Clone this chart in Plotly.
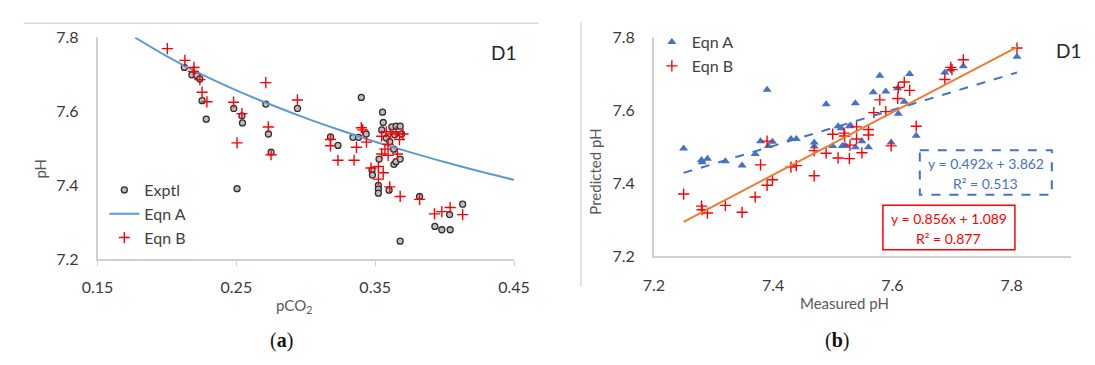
import plotly.graph_objects as go

# ---------------- data: panel (a) ----------------
exptl_pco2 = [0.2125, 0.218, 0.2215, 0.2237, 0.2253, 0.2283, 0.2481, 0.2505, 0.254, 0.2544,
              0.2712, 0.2731, 0.275, 0.294, 0.3178, 0.3232, 0.334, 0.338, 0.340, 0.3435,
              0.3477, 0.348, 0.3523, 0.3523, 0.3523, 0.3528, 0.3547, 0.3553, 0.3558, 0.358,
              0.3605, 0.362, 0.3633, 0.3635, 0.364, 0.365, 0.3651, 0.368, 0.368, 0.369,
              0.368, 0.360, 0.382, 0.393, 0.398, 0.4036, 0.404, 0.413]
exptl_ph = [7.719, 7.699, 7.697, 7.688, 7.629, 7.579, 7.608, 7.391, 7.588, 7.569,
            7.620, 7.539, 7.490, 7.608, 7.531, 7.508, 7.530, 7.530, 7.638, 7.539,
            7.441, 7.428, 7.400, 7.390, 7.379, 7.471, 7.550, 7.598, 7.570, 7.528,
            7.518, 7.558, 7.498, 7.457, 7.537, 7.464, 7.560, 7.560, 7.471, 7.539,
            7.249, 7.387, 7.370, 7.289, 7.280, 7.321, 7.280, 7.349]

eqnB_pco2 = [0.2003, 0.2129, 0.2195, 0.219, 0.2237, 0.2253, 0.2288, 0.248, 0.2505, 0.254,
             0.2712, 0.273, 0.275, 0.294, 0.3178, 0.3178, 0.3232, 0.3348, 0.3365, 0.340,
             0.341, 0.3437, 0.347, 0.3523, 0.3523, 0.3547, 0.3547, 0.3558, 0.357, 0.358,
             0.3593, 0.3593, 0.3605, 0.361, 0.365, 0.366, 0.3675, 0.368, 0.370, 0.382,
             0.3927, 0.398, 0.404, 0.413]
eqnB_ph = [7.770, 7.738, 7.719, 7.708, 7.686, 7.652, 7.626, 7.625, 7.515, 7.594,
           7.678, 7.558, 7.483, 7.631, 7.524, 7.507, 7.468, 7.468, 7.503, 7.556,
           7.550, 7.517, 7.447, 7.451, 7.417, 7.533, 7.485, 7.434, 7.498, 7.545,
           7.511, 7.481, 7.396, 7.539, 7.545, 7.485, 7.524, 7.370, 7.539, 7.362,
           7.323, 7.329, 7.340, 7.321]

curveA_pco2 = [0.177, 0.20, 0.225, 0.25, 0.275, 0.30, 0.325, 0.35, 0.375, 0.40, 0.425, 0.45]
curveA_ph = [7.800, 7.749, 7.700, 7.657, 7.618, 7.582, 7.549, 7.518, 7.490, 7.463, 7.438, 7.415]

# ---------------- data: panel (b) ----------------
measA = [7.250, 7.280, 7.281, 7.290, 7.320, 7.348, 7.370, 7.379, 7.390, 7.392,
         7.399, 7.430, 7.439, 7.469, 7.469, 7.489, 7.500, 7.509, 7.514, 7.516,
         7.519, 7.522, 7.528, 7.530, 7.538, 7.538, 7.549, 7.560, 7.568, 7.579,
         7.589, 7.598, 7.609, 7.610, 7.620, 7.629, 7.640, 7.688, 7.698, 7.719, 7.809]
predA = [7.496, 7.464, 7.458, 7.468, 7.461, 7.449, 7.481, 7.516, 7.657, 7.503,
         7.514, 7.522, 7.522, 7.512, 7.501, 7.617, 7.503, 7.557, 7.551, 7.503,
         7.503, 7.503, 7.557, 7.559, 7.620, 7.499, 7.516, 7.499, 7.650, 7.695,
         7.652, 7.512, 7.661, 7.591, 7.624, 7.700, 7.531, 7.704, 7.712, 7.721, 7.747]

measB = [7.250, 7.280, 7.281, 7.290, 7.320, 7.348, 7.370, 7.379, 7.390, 7.390,
         7.399, 7.430, 7.439, 7.469, 7.469, 7.489, 7.500, 7.509, 7.519, 7.520,
         7.528, 7.529, 7.540, 7.540, 7.549, 7.560, 7.560, 7.569, 7.579, 7.589,
         7.598, 7.609, 7.610, 7.620, 7.629, 7.640, 7.688, 7.698, 7.700, 7.719, 7.809]
predB = [7.371, 7.338, 7.328, 7.319, 7.340, 7.321, 7.363, 7.451, 7.395, 7.516,
         7.410, 7.445, 7.449, 7.421, 7.490, 7.483, 7.535, 7.470, 7.538, 7.530,
         7.468, 7.505, 7.555, 7.522, 7.484, 7.548, 7.533, 7.594, 7.629, 7.597,
         7.503, 7.633, 7.663, 7.678, 7.655, 7.557, 7.685, 7.718, 7.712, 7.739, 7.771]

# trendline coefficients (as printed on chart)
trend_slope = {"A": 0.492, "B": 0.856}
trend_intercept = {"A": 3.862, "B": 1.089}
trend_x = [min(measA), max(measA)]

W, H = 1095, 365
def px(x):
    return x / W
def py(y):
    return 1 - y / H

FONT = "Lato"
GREY_TXT = "#595959"
AXIS_COL = "#D0D0D0"
TICK_TXT = "#3A3A3A"

fig = go.Figure()

# panel a
fig.add_trace(go.Scatter(x=exptl_pco2, y=exptl_ph, mode="markers", name="Exptl",
                         marker=dict(symbol="circle", size=6, color="#BDBDBD",
                                     line=dict(color="#303030", width=1.3)),
                         xaxis="x", yaxis="y", legend="legend"))
fig.add_trace(go.Scatter(x=curveA_pco2, y=curveA_ph, mode="lines", name="Eqn A",
                         line=dict(color="#5B9BD5", width=2, shape="spline"),
                         xaxis="x", yaxis="y", legend="legend"))
fig.add_trace(go.Scatter(x=eqnB_pco2, y=eqnB_ph, mode="markers", name="Eqn B",
                         marker=dict(symbol="cross-thin", size=8,
                                     line=dict(color="#FF0000", width=1.4)),
                         xaxis="x", yaxis="y", legend="legend"))

# panel b
fig.add_trace(go.Scatter(x=measA, y=predA, mode="markers", name="Eqn A",
                         marker=dict(symbol="triangle-up", size=8, color="#4472C4"),
                         xaxis="x2", yaxis="y2", legend="legend2"))
fig.add_trace(go.Scatter(x=measB, y=predB, mode="markers", name="Eqn B",
                         marker=dict(symbol="cross-thin", size=8,
                                     line=dict(color="#FF0000", width=1.4)),
                         xaxis="x2", yaxis="y2", legend="legend2"))
fig.add_trace(go.Scatter(x=trend_x,
                         y=[trend_slope["A"] * v + trend_intercept["A"] for v in trend_x],
                         mode="lines", showlegend=False,
                         line=dict(color="#4472C4", width=2, dash="dash"),
                         xaxis="x2", yaxis="y2"))
fig.add_trace(go.Scatter(x=trend_x,
                         y=[trend_slope["B"] * v + trend_intercept["B"] for v in trend_x],
                         mode="lines", showlegend=False,
                         line=dict(color="#ED7D31", width=2),
                         xaxis="x2", yaxis="y2"))

axis_common = dict(showgrid=False, zeroline=False, showline=True, linecolor=AXIS_COL,
                   linewidth=1.5, tickfont=dict(family=FONT, size=16, color=TICK_TXT))

fig.update_layout(
    width=W, height=H, margin=dict(l=0, r=0, t=0, b=0),
    paper_bgcolor="white", plot_bgcolor="white",
    font=dict(family=FONT, color=GREY_TXT),
    xaxis=dict(domain=[px(84), px(513)], range=[0.15, 0.45], tickvals=[0.15, 0.25, 0.35, 0.45],
               ticktext=["0.15", "0.25", "0.35", "0.45"], ticks="outside", ticklen=5,
               tickcolor=AXIS_COL, anchor="y", ticklabelstandoff=8, **axis_common),
    yaxis=dict(domain=[py(263), py(29)], range=[7.2, 7.8], tickvals=[7.2, 7.4, 7.6, 7.8],
               ticktext=["7.2", "7.4", "7.6", "7.8"], ticks="", anchor="x",
               ticklabelstandoff=14, **axis_common),
    xaxis2=dict(domain=[px(657), px(1087)], range=[7.2, 7.9], tickvals=[7.2, 7.4, 7.6, 7.8],
                ticktext=["7.2", "7.4", "7.6", "7.8"], ticks="", anchor="y2",
                ticklabelstandoff=14, **axis_common),
    yaxis2=dict(domain=[py(260), py(29)], range=[7.2, 7.8], tickvals=[7.2, 7.4, 7.6, 7.8],
                ticktext=["7.2", "7.4", "7.6", "7.8"], ticks="", anchor="x2",
                ticklabelstandoff=14, **axis_common),
    legend=dict(x=px(91), y=py(172), xanchor="left", yanchor="top",
                font=dict(family=FONT, size=16, color="#404040"), bgcolor="rgba(0,0,0,0)",
                tracegroupgap=0, itemwidth=30),
    legend2=dict(x=px(655), y=py(16), xanchor="left", yanchor="top",
                 font=dict(family=FONT, size=16, color="#404040"), bgcolor="rgba(0,0,0,0)",
                 tracegroupgap=0, itemwidth=30),
    showlegend=True,
)

# frame lines from original chart areas
fig.add_shape(type="line", xref="paper", yref="paper", x0=px(8), x1=px(538), y0=py(14), y1=py(14),
              line=dict(color="#D9D9D9", width=1.5))
fig.add_shape(type="line", xref="paper", yref="paper", x0=px(582), x1=px(582), y0=py(13), y1=py(292),
              line=dict(color="#D9D9D9", width=1.5))

# equation boxes
fig.add_shape(type="rect", xref="paper", yref="paper", x0=px(931), x1=px(1067), y0=py(148), y1=py(195),
              line=dict(color="#4472C4", width=2, dash="dash"))
fig.add_shape(type="rect", xref="paper", yref="paper", x0=px(893), x1=px(1029), y0=py(206), y1=py(253),
              line=dict(color="#FF0000", width=1.5))

def ann(text, x, y, size=14, color=GREY_TXT, family=FONT, angle=0):
    fig.add_annotation(text=text, x=px(x), y=py(y), xref="paper", yref="paper",
                       showarrow=False, xanchor="center", yanchor="middle",
                       font=dict(family=family, size=size, color=color), textangle=angle)

ann("y = 0.492x + 3.862", 999, 162, size=14, color="#4472C4")
ann("R² = 0.513", 999, 183, size=14, color="#4472C4")
ann("y = 0.856x + 1.089", 961, 220, size=14, color="#FF0000")
ann("R² = 0.877", 961, 241, size=14, color="#FF0000")

ann("D1", 502, 45, size=19, color="#262626")
ann("D1", 1084, 43, size=19, color="#262626")
ann("pH", 25, 167, size=15, angle=-90)
ann("pCO<sub>2</sub>", 286, 312, size=15)
ann("Predicted pH", 597, 171, size=15, angle=-90)
ann("Measured pH", 853, 309, size=15)
ann("(<b>a</b>)", 274, 349, size=20, color="#111111", family="Liberation Serif")
ann("(<b>b</b>)", 846, 349, size=20, color="#111111", family="Liberation Serif")

fig.write_html("out.html")
